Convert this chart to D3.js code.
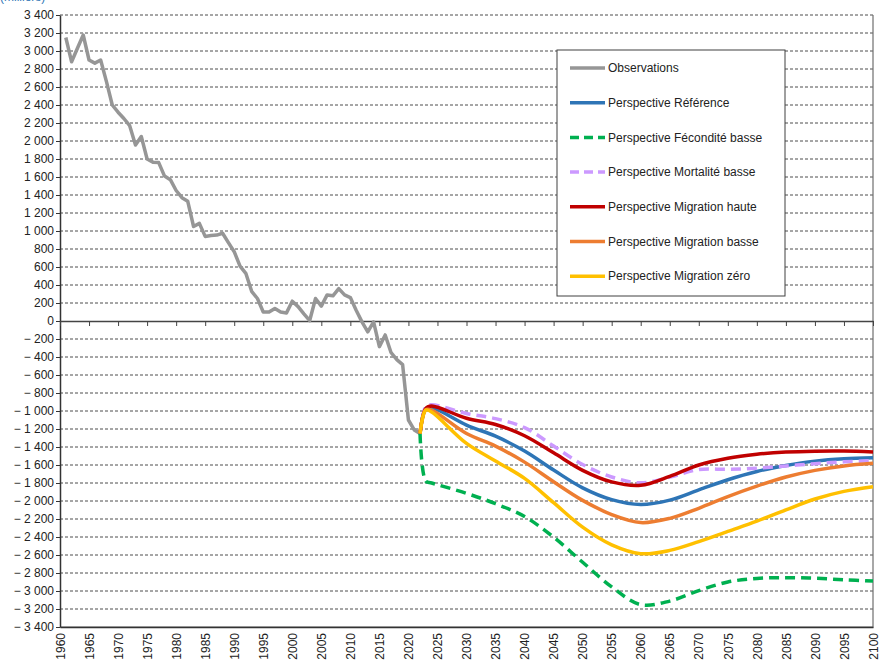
<!DOCTYPE html>
<html>
  <head>
    <meta charset="utf-8" />
    <script src="https://d3js.org/d3.v7.min.js"></script>
    <style>
      body { margin: 0; background: #fff; }
      text { font-family: "Liberation Sans", Arial, sans-serif; }
    </style>
  </head>
  <body>
    <div id="my_dataviz"></div>
    <script>
      // observations (annual balance, thousands)
      var obsYears = d3.range(1961, 2023);
      var obsValues = [
        3150, 2880, 3030, 3178, 2900, 2865, 2900, 2660, 2400, 2320,
        2250, 2170, 1955, 2050, 1800, 1765, 1760, 1610, 1570, 1450,
        1370, 1330, 1050, 1085, 940, 950, 955, 975, 870, 770,
        610, 530, 330, 250, 100, 100, 140, 100, 90, 220,
        160, 80, 5, 250, 165, 290, 280, 360, 290, 260,
        120, -10, -120, -10, -285, -155, -350, -430, -485, -1100,
        -1210, -1250
      ];

      // projections
      var projYears = [2022, 2023, 2024, 2030, 2035, 2040, 2045, 2050, 2055, 2060, 2065, 2070, 2075, 2080, 2085, 2090, 2095, 2100];
      var reference = [-1250, -975, -962, -1157, -1280, -1445, -1656, -1854, -1985, -2039, -1990, -1877, -1764, -1672, -1606, -1557, -1530, -1519];
      var feconditeBasse = [-1250, -1780, -1800, -1915, -2030, -2173, -2402, -2681, -2954, -3152, -3112, -2996, -2900, -2860, -2852, -2858, -2875, -2890];
      var mortaliteBasse = [-1250, -950, -930, -1027, -1085, -1184, -1390, -1595, -1733, -1798, -1735, -1650, -1648, -1635, -1610, -1585, -1565, -1552];
      var migrationHaute = [-1250, -970, -945, -1081, -1150, -1275, -1465, -1659, -1788, -1826, -1727, -1600, -1525, -1481, -1456, -1446, -1445, -1456];
      var migrationBasse = [-1250, -985, -990, -1250, -1390, -1568, -1786, -1993, -2151, -2240, -2193, -2081, -1951, -1835, -1734, -1660, -1610, -1581];
      var migrationZero = [-1250, -990, -1012, -1360, -1555, -1749, -2019, -2291, -2488, -2585, -2549, -2452, -2338, -2224, -2099, -1978, -1893, -1841];

      var yTicks = d3.range(-3400, 3401, 200);
      var xTicks = d3.range(1960, 2101, 5);

      var series = [
        { name: "Observations", years: obsYears, values: obsValues, color: "#969696", dash: null, smooth: false },
        { name: "Perspective Référence", years: projYears, values: reference, color: "#2E75B6", dash: null, smooth: true },
        { name: "Perspective Fécondité basse", years: projYears, values: feconditeBasse, color: "#00B050", dash: "10,6", smooth: true },
        { name: "Perspective Mortalité basse", years: projYears, values: mortaliteBasse, color: "#CC99FF", dash: "10,6", smooth: true },
        { name: "Perspective Migration haute", years: projYears, values: migrationHaute, color: "#C00000", dash: null, smooth: true },
        { name: "Perspective Migration basse", years: projYears, values: migrationBasse, color: "#ED7D31", dash: null, smooth: true },
        { name: "Perspective Migration zéro", years: projYears, values: migrationZero, color: "#FFC000", dash: null, smooth: true }
      ];

      var margin = { top: 15, right: 7, bottom: 40, left: 60 },
        width = 880 - margin.left - margin.right,
        height = 667 - margin.top - margin.bottom;

      var svgRoot = d3
        .select("#my_dataviz")
        .append("svg")
        .attr("width", 880)
        .attr("height", 667);

      // unit label, mostly above the visible area as in the source
      svgRoot
        .append("text")
        .attr("x", 0)
        .attr("y", 1)
        .style("font-size", "12px")
        .style("fill", "#2F75B5")
        .text("(milliers)");

      var svg = svgRoot
        .append("g")
        .attr("transform", "translate(" + margin.left + "," + margin.top + ")");

      var x = d3.scaleLinear().domain([1960, 2100]).range([0, width]);
      var y = d3.scaleLinear().domain([-3400, 3400]).range([612, 0]);

      var fmt = function (v) {
        var s = d3.format(",")(Math.abs(v)).replace(/,/g, " ");
        return v < 0 ? "\u2212 " + s : s;
      };

      // horizontal gridlines
      svg
        .append("g")
        .selectAll("line")
        .data(yTicks.filter(function (d) { return d !== 0 && d !== -3400; }))
        .enter()
        .append("line")
        .attr("x1", 0)
        .attr("x2", x(2100))
        .attr("y1", function (d) { return y(d); })
        .attr("y2", function (d) { return y(d); })
        .style("stroke", "#4d4d4d")
        .style("stroke-width", 1)
        .style("stroke-dasharray", "3,2");

      // right and bottom frame
      svg
        .append("path")
        .attr("d", "M" + x(2100) + "," + y(3400) + "V" + y(-3400) + "H0")
        .style("fill", "none")
        .style("stroke", "#6f6f6f")
        .style("stroke-width", 1.2);

      // y axis
      var yAxis = svg
        .append("g")
        .call(d3.axisLeft(y).tickValues(yTicks).tickSize(4).tickSizeOuter(0).tickFormat(fmt));
      yAxis.select(".domain").style("stroke", "#333").style("stroke-width", 1.5);
      yAxis.selectAll(".tick line").style("stroke", "#333");
      yAxis.selectAll(".tick text").style("font-size", "12px").style("fill", "#222").attr("x", -6);

      // zero axis with ticks
      var zeroAxis = svg
        .append("g")
        .attr("transform", "translate(0," + y(0) + ")")
        .call(d3.axisBottom(x).tickValues(xTicks).tickSize(5).tickSizeOuter(0).tickFormat(""));
      zeroAxis.select(".domain").style("stroke", "#444").style("stroke-width", 1.5);
      zeroAxis.selectAll(".tick line").style("stroke", "#444");

      // year labels at the bottom
      var xAxis = svg
        .append("g")
        .attr("transform", "translate(0," + y(-3400) + ")")
        .call(d3.axisBottom(x).tickValues(xTicks).tickSize(0).tickFormat(d3.format("d")));
      xAxis.select(".domain").style("stroke", "#333").style("stroke-width", 1.5);
      xAxis
        .selectAll(".tick text")
        .style("font-size", "12px")
        .style("fill", "#222")
        .style("text-anchor", "end")
        .attr("dy", "0.35em")
        .attr("x", -6)
        .attr("y", 0)
        .attr("transform", "rotate(-90)");

      // the lines
      series.forEach(function (s) {
        var pts = s.years.map(function (yr, i) { return [yr, s.values[i]]; });
        var line = d3
          .line()
          .x(function (d) { return x(d[0]); })
          .y(function (d) { return y(d[1]); })
          .curve(s.smooth ? d3.curveCatmullRom.alpha(0.5) : d3.curveLinear);
        svg
          .append("path")
          .datum(pts)
          .attr("d", line)
          .style("fill", "none")
          .style("stroke", s.color)
          .style("stroke-width", 3.5)
          .style("stroke-linejoin", "round")
          .style("stroke-dasharray", s.dash);
      });

      // legend
      var legend = svgRoot.append("g").attr("transform", "translate(557,50)");
      legend
        .append("rect")
        .attr("width", 228)
        .attr("height", 246)
        .style("fill", "#fff")
        .style("stroke", "#404040")
        .style("stroke-width", 1);
      var item = legend
        .selectAll(".item")
        .data(series)
        .enter()
        .append("g")
        .attr("transform", function (d, i) { return "translate(0," + (18 + i * 34.7) + ")"; });
      item
        .append("line")
        .attr("x1", 13)
        .attr("x2", 48)
        .style("stroke", function (d) { return d.color; })
        .style("stroke-width", 3.5)
        .style("stroke-dasharray", function (d) { return d.dash ? "9,5" : null; });
      item
        .append("text")
        .attr("x", 51)
        .attr("dy", "0.35em")
        .style("font-size", "12px")
        .style("fill", "#222")
        .text(function (d) { return d.name; });
    </script>
  </body>
</html>
